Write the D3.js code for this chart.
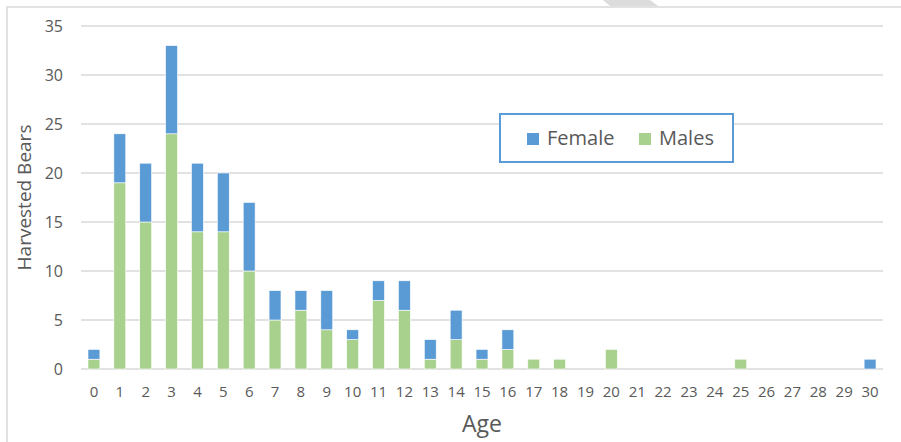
<!DOCTYPE html>
<html>
<head>
<meta charset="utf-8">
<script src="https://cdn.jsdelivr.net/npm/d3@7"></script>
<style>
  body { margin: 0; background: #fff; }
  text { font-family: "Open Sans", "DejaVu Sans", sans-serif; }
</style>
</head>
<body>
<div id="chart"></div>
<script>
// ages 0..30
const ages = d3.range(0, 31).map(String);
const males = [1, 19, 15, 24, 14, 14, 10, 5, 6, 4, 3, 7, 6, 1, 3, 1, 2, 1, 1, 0, 2, 0, 0, 0, 0, 1, 0, 0, 0, 0, 0];
const female = [1, 5, 6, 9, 7, 6, 7, 3, 2, 4, 1, 2, 3, 2, 3, 1, 2, 0, 0, 0, 0, 0, 0, 0, 0, 0, 0, 0, 0, 0, 1];
const yTicks = [0, 5, 10, 15, 20, 25, 30, 35];
const seriesNames = ["Males", "Female"];
const colors = { Female: "#5b9bd5", Males: "#a9d18e" };

const width = 901, height = 442;
const margin = { top: 26, right: 18, bottom: 73, left: 81 };
const innerW = width - margin.left - margin.right;
const innerH = height - margin.top - margin.bottom;

const svg = d3.select("#chart").append("svg")
  .attr("width", width)
  .attr("height", height);

// chart frame (only top + left edges visible)
svg.append("path")
  .attr("d", `M7,${height} L7,7 L${width},7`)
  .attr("fill", "none")
  .attr("stroke", "#d9d9d9")
  .attr("stroke-width", 1.5);

// little grey flap at the top edge
svg.append("polygon")
  .attr("points", "603,0 650,0 658,6 610,6")
  .attr("fill", "#dcdcdc");

const chart = svg.append("g")
  .attr("transform", `translate(${margin.left},${margin.top})`);

const x = d3.scaleBand()
  .domain(ages)
  .range([0, innerW])
  .paddingInner(0.54)
  .paddingOuter(0.27);

const y = d3.scaleLinear()
  .domain([0, 35])
  .range([innerH, 0]);

// gridlines
chart.append("g")
  .selectAll("line")
  .data(yTicks)
  .join("line")
  .attr("x1", 0)
  .attr("x2", innerW)
  .attr("y1", d => y(d))
  .attr("y2", d => y(d))
  .attr("stroke", "#d9d9d9")
  .attr("stroke-width", 1.5);

// y axis labels
const yAxis = d3.axisLeft(y).tickValues(yTicks).tickSize(0).tickPadding(18);
const yG = chart.append("g").call(yAxis);
yG.select(".domain").remove();
yG.selectAll("text")
  .attr("fill", "#595959")
  .style("font-size", "16px");

// x axis labels
const xAxis = d3.axisBottom(x).tickSize(0).tickPadding(17);
const xG = chart.append("g")
  .attr("transform", `translate(0,${innerH})`)
  .call(xAxis);
xG.select(".domain").remove();
xG.selectAll("text")
  .attr("fill", "#595959")
  .style("font-size", "15px");

// stacked bars
const table = ages.map((a, i) => ({ age: a, Males: males[i], Female: female[i] }));
const stack = d3.stack().keys(seriesNames)(table);

chart.append("g")
  .selectAll("g")
  .data(stack)
  .join("g")
  .attr("fill", d => colors[d.key])
  .selectAll("rect")
  .data(d => d.filter(s => s[1] - s[0] > 0))
  .join("rect")
  .attr("x", d => x(d.data.age))
  .attr("y", d => y(d[1]))
  .attr("width", x.bandwidth())
  .attr("height", d => y(d[0]) - y(d[1]))
  .attr("stroke", "#fff")
  .attr("stroke-width", 0.6);

// axis titles
svg.append("text")
  .attr("transform", `translate(31,${margin.top + innerH / 2}) rotate(-90)`)
  .attr("text-anchor", "middle")
  .attr("fill", "#595959")
  .style("font-size", "19px")
  .text("Harvested Bears");

svg.append("text")
  .attr("x", 482)
  .attr("y", 432)
  .attr("text-anchor", "middle")
  .attr("fill", "#595959")
  .style("font-size", "23px")
  .text("Age");

// legend
const legend = svg.append("g").attr("transform", "translate(500,114)");
legend.append("rect")
  .attr("width", 233)
  .attr("height", 48)
  .attr("fill", "#fff")
  .attr("stroke", "#5b9bd5")
  .attr("stroke-width", 2);

const legendItems = [
  { name: "Female", x: 27 },
  { name: "Males", x: 139 }
];
const li = legend.selectAll("g.item")
  .data(legendItems)
  .join("g")
  .attr("class", "item")
  .attr("transform", d => `translate(${d.x},19)`);
li.append("rect")
  .attr("width", 12)
  .attr("height", 12)
  .attr("fill", d => colors[d.name]);
li.append("text")
  .attr("x", 20)
  .attr("y", 12)
  .attr("fill", "#595959")
  .style("font-size", "20px")
  .text(d => d.name);
</script>
</body>
</html>
